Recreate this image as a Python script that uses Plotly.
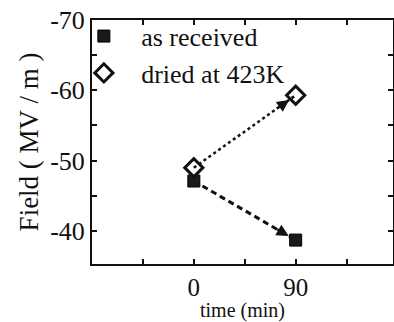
import plotly.graph_objects as go

time_min = [0, 90]
field_received = [-47.1, -38.7]
field_dried = [-49.0, -59.3]
series_names = ["as received", "dried at 423K"]
x_tickvals = [-45, 0, 45, 90, 135]
x_ticktext = ["", "0", "", "90", ""]
y_tickvals = [-70, -65, -60, -55, -50, -45, -40]
y_ticktext = ["-70", "", "-60", "", "-50", "", "-40"]

FONT = "Liberation Serif"
INK = "#111111"
GAP = "\u2002\u2006"  # extra space between legend symbol and label

fig = go.Figure()

fig.add_trace(go.Scatter(x=time_min, y=field_dried, mode="lines",
                         line=dict(color=INK, width=2.5, dash="dot"),
                         showlegend=False, hoverinfo="skip"))
fig.add_trace(go.Scatter(x=time_min, y=field_received, mode="lines",
                         line=dict(color=INK, width=3, dash="6px,4px"),
                         showlegend=False, hoverinfo="skip"))
fig.add_trace(go.Scatter(x=time_min, y=field_received, mode="markers",
                         marker=dict(symbol="square", size=12, color="#1a1a1a",
                                     line=dict(color="#000", width=1)),
                         name=GAP + series_names[0]))
fig.add_trace(go.Scatter(x=time_min, y=field_dried, mode="markers",
                         marker=dict(symbol="diamond-open", size=14, color=INK,
                                     line=dict(color=INK, width=3)),
                         name=GAP + series_names[1]))

for ys in (field_received, field_dried):
    x0, x1 = time_min
    y0, y1 = ys
    fr = 0.8
    fig.add_annotation(x=x1, y=y1, ax=x0 + fr * (x1 - x0), ay=y0 + fr * (y1 - y0),
                       xref="x", yref="y", axref="x", ayref="y",
                       showarrow=True, arrowhead=2, arrowsize=1.1, arrowwidth=2.2,
                       arrowcolor=INK, standoff=8, text="")

fig.update_layout(
    width=394, height=322,
    margin=dict(l=92, r=1, t=20, b=58, autoexpand=False),
    paper_bgcolor="white", plot_bgcolor="white",
    font=dict(family=FONT, color=INK, size=24),
    showlegend=True,
    legend=dict(x=-0.027, y=1.03, xanchor="left", yanchor="top",
                bgcolor="rgba(0,0,0,0)", font=dict(size=26, family=FONT, color=INK),
                itemwidth=30, tracegroupgap=0),
)
fig.update_xaxes(range=[-90, 176], tickmode="array", tickvals=x_tickvals, ticktext=x_ticktext,
                 ticks="inside", ticklen=5, tickwidth=1.5, tickcolor=INK,
                 showline=True, linecolor=INK, linewidth=2, mirror="ticks",
                 showgrid=False, zeroline=False, automargin=False,
                 tickfont=dict(size=25, family=FONT, color=INK),
                 title=dict(text="time (min)", font=dict(size=20, family=FONT, color=INK), standoff=0))
fig.update_yaxes(range=[-35.3, -70], tickmode="array", tickvals=y_tickvals, ticktext=y_ticktext,
                 ticks="inside", ticklen=5, tickwidth=1.5, tickcolor=INK,
                 showline=True, linecolor=INK, linewidth=2, mirror="ticks",
                 showgrid=False, zeroline=False, automargin=False,
                 tickfont=dict(size=26, family=FONT, color=INK),
                 title=dict(text="Field ( MV / m )", font=dict(size=27, family=FONT, color=INK), standoff=4))

fig.write_html("out.html", config={"displayModeBar": False},
               post_script="document.body.style.margin='0px';document.body.style.padding='0px';")
